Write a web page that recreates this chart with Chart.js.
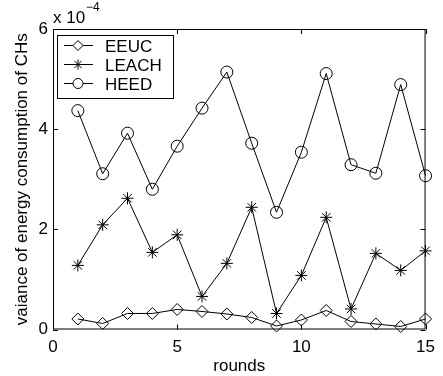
<!DOCTYPE html>
<html>
<head>
<meta charset="utf-8">
<script src="https://cdn.jsdelivr.net/npm/chart.js@4.4.0/dist/chart.umd.min.js"></script>
<style>
  body { margin: 0; background: #fff; }
  #wrap { width: 443px; height: 376px; }
</style>
</head>
<body>
<div id="wrap"><canvas id="varChart" width="443" height="376"></canvas></div>
<script>
// values are in units of 1e-4
const rounds = [1, 2, 3, 4, 5, 6, 7, 8, 9, 10, 11, 12, 13, 14, 15];
const eeuc  = [0.21, 0.12, 0.32, 0.32, 0.40, 0.36, 0.31, 0.24, 0.07, 0.19, 0.38, 0.16, 0.11, 0.06, 0.21];
const leach = [1.28, 2.09, 2.62, 1.54, 1.89, 0.66, 1.32, 2.44, 0.32, 1.08, 2.24, 0.41, 1.52, 1.18, 1.57];
const heed  = [4.37, 3.11, 3.92, 2.80, 3.66, 4.42, 5.14, 3.72, 2.34, 3.54, 5.11, 3.29, 3.12, 4.89, 3.07];
const xTicks = [0, 5, 10, 15];
const yTicks = [0, 2, 4, 6];

const FONT = 'Liberation Sans, Arial, Helvetica, sans-serif';

function series(label, values, marker) {
    return {
        label: label,
        data: rounds.map((r, i) => ({ x: r, y: values[i] })),
        borderColor: '#000',
        borderWidth: 1,
        backgroundColor: 'rgba(0,0,0,0)',
        pointStyle: marker,
        pointRadius: 6,
        pointBorderColor: '#000',
        pointBorderWidth: 1,
        pointBackgroundColor: 'rgba(0,0,0,0)',
        tension: 0,
        clip: false
    };
}

// MATLAB-like frame, inward ticks, legend box and exponent
const matlabBox = {
    id: 'matlabBox',
    afterDraw(chart) {
        const c = chart.ctx;
        const a = chart.chartArea;
        const xs = chart.scales.x, ys = chart.scales.y;
        c.save();
        c.strokeStyle = '#000';
        c.lineWidth = 1;
        c.strokeRect(a.left + 0.5, a.top + 0.5, a.right - a.left - 1, a.bottom - a.top - 1);
        c.beginPath();
        xTicks.forEach(v => {
            const px = Math.round(xs.getPixelForValue(v)) + 0.5;
            c.moveTo(px, a.bottom); c.lineTo(px, a.bottom - 5);
            c.moveTo(px, a.top); c.lineTo(px, a.top + 5);
        });
        yTicks.forEach(v => {
            const py = Math.round(ys.getPixelForValue(v)) + 0.5;
            c.moveTo(a.left, py); c.lineTo(a.left + 5, py);
            c.moveTo(a.right, py); c.lineTo(a.right - 5, py);
        });
        c.stroke();

        // legend
        const lx = a.left + 4, ly = a.top + 6, lw = 116, lh = 63;
        c.fillStyle = '#fff';
        c.fillRect(lx, ly, lw, lh);
        c.strokeRect(lx + 0.5, ly + 0.5, lw, lh);
        c.font = '17px ' + FONT;
        c.textBaseline = 'middle';
        chart.data.datasets.forEach((ds, i) => {
            const y = Math.round(ly + 10 + i * 19.2) + 0.5;
            c.beginPath();
            c.moveTo(lx + 7, y); c.lineTo(lx + 36, y);
            c.stroke();
            c.fillStyle = '#fff';
            Chart.helpers.drawPoint(c, { pointStyle: ds.pointStyle, radius: 5, borderWidth: 1 }, lx + 21, y);
            c.fillStyle = '#000';
            c.fillText(ds.label, lx + 48, y + 1.5);
        });

        // exponent label
        c.textBaseline = 'alphabetic';
        c.font = '17px ' + FONT;
        c.fillText('x 10', a.left, 23);
        c.font = '12px ' + FONT;
        c.fillText('\u22124', a.left + 33, 11);
        c.restore();
    }
};

new Chart(document.getElementById('varChart'), {
    type: 'line',
    data: {
        datasets: [
            series('EEUC', eeuc, 'rectRot'),
            series('LEACH', leach, 'star'),
            series('HEED', heed, 'circle')
        ]
    },
    options: {
        responsive: false,
        animation: false,
        layout: { padding: { top: 29, right: 8, left: 0, bottom: 0 } },
        plugins: {
            legend: { display: false },
            tooltip: { enabled: false }
        },
        scales: {
            x: {
                type: 'linear',
                min: 0,
                max: 15,
                afterBuildTicks: s => { s.ticks = xTicks.map(v => ({ value: v })); },
                afterFit: s => { s.height = 46.5; },
                grid: { display: false, drawTicks: false },
                border: { display: false },
                ticks: { color: '#000', padding: 8, maxRotation: 0, font: { family: FONT, size: 17 } },
                title: {
                    display: true,
                    text: 'rounds',
                    color: '#000',
                    font: { family: FONT, size: 17, lineHeight: 1 },
                    padding: { top: 0, bottom: 1 }
                }
            },
            y: {
                type: 'linear',
                min: 0,
                max: 6,
                afterBuildTicks: s => { s.ticks = yTicks.map(v => ({ value: v })); },
                afterFit: s => { s.width = 53; },
                grid: { display: false, drawTicks: false },
                border: { display: false },
                ticks: { color: '#000', padding: 5, font: { family: FONT, size: 17 } },
                title: {
                    display: true,
                    text: 'vaiance of energy consumption of CHs',
                    color: '#000',
                    font: { family: FONT, size: 17, lineHeight: 1.2 },
                    padding: { top: 12, bottom: 0 }
                }
            }
        }
    },
    plugins: [matlabBox]
});
</script>
</body>
</html>
